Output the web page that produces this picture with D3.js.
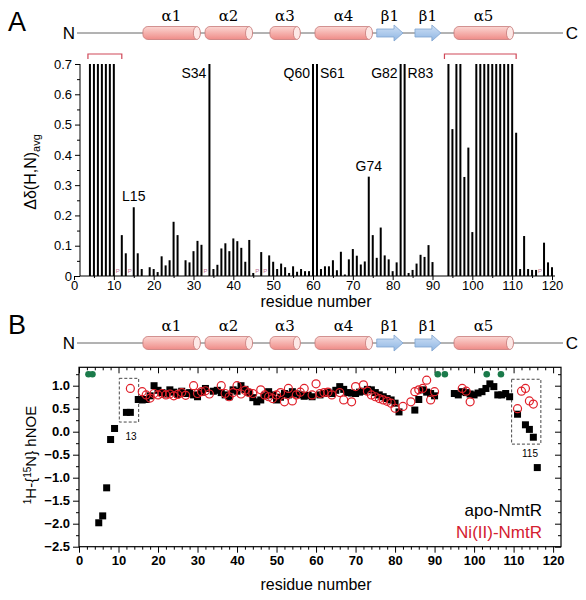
<!DOCTYPE html>
<html><head><meta charset="utf-8">
<script src="https://cdn.jsdelivr.net/npm/d3@7"></script>
<style>body{margin:0;background:#fff}svg{display:block;font-family:"Liberation Sans",Arial,sans-serif}</style>
</head><body><svg id="c" width="586" height="600"></svg>
<script>
// ---------- DATA ----------
// Panel A: chemical shift perturbation per residue (values > 0.7 are clipped at 0.7)
const csRes = [4,5,6,7,8,9,10,12,13,15,16,17,19,20,21,22,23,24,25,26,28,29,30,31,32,34,35,36,37,38,39,40,41,42,43,44,45,47,49,50,51,52,53,54,55,56,57,58,59,60,61,62,63,64,65,66,67,68,69,70,71,72,73,74,75,76,77,78,79,80,81,82,83,84,85,86,87,88,89,90,94,95,96,97,98,99,100,101,102,103,104,105,106,107,108,109,110,111,112,113,114,115,116,118,119,120];
const csVal = [0.7,0.7,0.7,0.7,0.7,0.7,0.7,0.135,0.075,0.227,0.075,0.023,0.029,0.023,0.013,0.065,0.035,0.052,0.179,0.135,0.052,0.045,0.082,0.116,0.103,0.7,0.023,0.037,0.091,0.108,0.082,0.124,0.115,0.093,0.047,0.119,0.01,0.079,0.068,0.047,0.023,0.041,0.029,0.01,0.032,0.014,0.023,0.016,0.016,0.7,0.7,0.023,0.032,0.032,0.052,0.019,0.08,0.005,0.055,0.089,0.067,0.038,0.048,0.328,0.135,0.06,0.16,0.068,0.055,0.016,0.045,0.7,0.7,0.01,0.02,0.041,0.07,0.063,0.102,0.046,0.7,0.485,0.7,0.7,0.327,0.424,0.145,0.7,0.7,0.7,0.7,0.7,0.7,0.7,0.7,0.7,0.7,0.473,0.023,0.132,0.023,0.02,0.02,0.11,0.045,0.029];
const prolines = [11,14,33,46,48,117];
const csLabels = [["L15",15,"mid"],["S34",34,"end"],["Q60",60,"end"],["S61",61,"start"],["G74",74,"mid"],["G82",82,"end"],["R83",83,"start"]];
const brackets = [[3.5,12],[93,111]];
const xTicksA = [0,10,20,30,40,50,60,70,80,90,100,110,120];
const yTicksA = [0,0.1,0.2,0.3,0.4,0.5,0.6,0.7];

// Secondary structure (residue ranges)
const helices = [["α1",17.3,31.6],["α2",32.9,44.7],["α3",49.2,56.7],["α4",60.5,74.8],["α5",95.4,110.2]];
const strands = [["β1",76,82.6],["β1",85.6,92.1]];

// Panel B: hNOE
const apoRes = [5,6,7,8,9,12,13,15,16,17,18,19,20,21,22,23,24,25,26,27,28,29,30,31,32,34,35,36,37,38,39,40,41,42,43,44,45,46,47,48,49,50,51,52,53,54,55,56,57,58,59,61,62,63,64,65,66,67,68,69,70,71,72,73,74,75,76,77,78,79,80,81,85,86,87,88,89,90,95,96,97,98,99,100,101,102,103,104,105,106,107,108,109,111,113,114,115,116];
const apoVal = [-1.98,-1.83,-1.22,-0.17,0.07,0.42,0.42,0.70,0.69,0.70,0.78,1.0,0.90,0.85,0.82,0.91,0.86,0.81,0.88,0.83,0.85,0.80,0.76,0.86,0.94,0.88,0.90,0.85,0.80,0.76,0.91,0.88,1.0,0.92,0.85,0.74,0.65,0.69,0.78,0.87,0.80,0.69,0.75,0.83,0.80,0.87,0.82,0.80,0.77,0.79,0.76,0.80,0.83,0.86,0.83,0.90,0.98,0.92,0.85,0.84,0.83,0.86,0.88,0.92,0.91,0.85,0.80,0.76,0.72,0.69,0.62,0.43,0.47,0.70,0.91,0.86,0.83,0.78,0.83,0.80,0.87,0.85,0.82,0.80,0.84,0.87,0.94,1.04,0.98,0.80,0.80,0.83,0.76,0.38,0.15,0.05,-0.12,-0.78];
const niRes = [13,16,17,18,19,20,21,22,23,24,25,26,27,29,30,31,32,33,36,37,38,39,40,41,42,43,44,46,47,48,49,50,51,52,53,54,55,56,57,59,60,61,62,63,64,66,67,69,70,72,73,74,75,76,77,78,79,80,82,84,85,86,87,88,89,90,97,98,99,111,112,113,114,115];
const niVal = [0.94,0.87,0.80,0.73,0.83,0.80,0.83,0.80,0.82,0.78,0.81,0.85,0.79,1.0,0.83,0.87,0.89,0.82,1.0,0.83,0.76,0.85,1.0,0.82,0.90,0.85,0.83,0.91,0.80,0.76,0.72,0.80,0.85,0.65,0.94,0.67,0.80,0.86,0.94,0.80,1.04,0.83,0.85,0.86,0.80,0.85,0.69,0.65,0.98,1.02,0.88,0.80,0.76,0.72,0.69,0.66,0.62,0.51,0.55,0.65,0.87,0.91,0.94,1.12,0.69,0.87,0.94,0.88,0.65,0.50,0.88,0.94,0.67,0.60];
const sigRes = [2.4,3.4,90.8,92.6,103.2,106.8];
const xTicksB = [0,10,20,30,40,50,60,70,80,90,100,110,120];
const yTicksB = [1.0,0.5,0.0,-0.5,-1.0,-1.5,-2.0,-2.5];

// ---------- DRAW ----------
const svg = d3.select("#c");
const defs = svg.append("defs");
const g1 = defs.append("linearGradient").attr("id","helix").attr("x1",0).attr("y1",0).attr("x2",0).attr("y2",1);
g1.append("stop").attr("offset","0%").attr("stop-color","#fbd6d2");
g1.append("stop").attr("offset","100%").attr("stop-color","#ef8c88");
const g2 = defs.append("linearGradient").attr("id","strand").attr("x1",0).attr("y1",0).attr("x2",0).attr("y2",1);
g2.append("stop").attr("offset","0%").attr("stop-color","#cfe0f5");
g2.append("stop").attr("offset","100%").attr("stop-color","#8fb6e3");

const xA = d3.scaleLinear().domain([0,120]).range([74,552]);
const yA = d3.scaleLinear().domain([0,0.7]).range([276,64]);
const xB = d3.scaleLinear().domain([0,122]).range([79,561]);
const yB = d3.scaleLinear().domain([-2.5,1.4]).range([546.7,367.3]);

function topology(yc, xs){
  const t = svg.append("g");
  t.append("line").attr("x1",77).attr("x2",563).attr("y1",yc).attr("y2",yc).attr("stroke","#666").attr("stroke-width",1);
  t.append("text").attr("x",69).attr("y",yc+6).attr("text-anchor","middle").attr("font-size",17).text("N");
  t.append("text").attr("x",572).attr("y",yc+6).attr("text-anchor","middle").attr("font-size",17).text("C");
  const h=13;
  helices.forEach(([lab,s,e])=>{
    const x0=xs(s), x1=xs(e);
    t.append("rect").attr("x",x0).attr("y",yc-h/2).attr("width",x1-x0).attr("height",h).attr("rx",5)
      .attr("fill","url(#helix)").attr("stroke","#c77a78").attr("stroke-width",0.8);
    t.append("ellipse").attr("cx",x1-3).attr("cy",yc).attr("rx",3.5).attr("ry",h/2)
      .attr("fill","#fde8e6").attr("stroke","#c77a78").attr("stroke-width",0.8);
    t.append("text").attr("x",(x0+x1)/2).attr("y",yc-12).attr("text-anchor","middle").attr("font-size",15)
      .attr("font-family","'DejaVu Serif',serif").text(lab);
  });
  strands.forEach(([lab,s,e])=>{
    const x0=xs(s), x1=xs(e), sh=4, hh=8, hx=x1-9;
    t.append("path").attr("d",`M${x0},${yc-sh}L${hx},${yc-sh}L${hx},${yc-hh}L${x1},${yc}L${hx},${yc+hh}L${hx},${yc+sh}L${x0},${yc+sh}Z`)
      .attr("fill","url(#strand)").attr("stroke","#7fa3cf").attr("stroke-width",0.8);
    t.append("text").attr("x",(x0+x1)/2).attr("y",yc-12).attr("text-anchor","middle").attr("font-size",15)
      .attr("font-family","'DejaVu Serif',serif").text(lab);
  });
}

// ---- Panel A ----
svg.append("text").attr("x",8).attr("y",31).attr("font-size",27).text("A");
topology(33, xA);

const gA = svg.append("g");
gA.selectAll("rect.bar").data(csRes.map((r,i)=>[r,csVal[i]])).enter().append("rect")
  .attr("x",d=>xA(d[0])-1).attr("width",2).attr("y",d=>yA(d[1])).attr("height",d=>yA(0)-yA(d[1])).attr("fill","#000");
gA.selectAll("text.p").data(prolines).enter().append("text").attr("x",d=>xA(d)).attr("y",yA(0)-3)
  .attr("text-anchor","middle").attr("font-size",6).attr("fill","#c07090").text("P");
brackets.forEach(([s,e])=>{
  gA.append("path").attr("d",`M${xA(s)},${59}V${54}H${xA(e)}V${59}`).attr("fill","none").attr("stroke","#d04858").attr("stroke-width",1.2);
});
csLabels.forEach(([t,r,a])=>{
  const v = csVal[csRes.indexOf(r)];
  let x = xA(r), y = v>=0.7 ? 78 : yA(v)-6;
  if(a==="end") x -= 3; if(a==="start") x += 3;
  gA.append("text").attr("x",x).attr("y",y).attr("font-size",14)
    .attr("text-anchor",a==="mid"?"middle":a).text(t);
});
// axes
gA.append("line").attr("x1",80).attr("x2",80).attr("y1",yA(0.7)).attr("y2",yA(0)).attr("stroke","#000");
gA.append("line").attr("x1",80).attr("x2",555).attr("y1",yA(0)).attr("y2",yA(0)).attr("stroke","#000");
const yAx = d3.axisLeft(yA).tickValues(yTicksA).tickFormat(d=>d===0?"0":d3.format(".1f")(d)).tickSize(5).tickSizeOuter(0);
const ya = gA.append("g").attr("transform","translate(80,0)").call(yAx);
ya.select(".domain").remove();
ya.selectAll("text").attr("font-size",13).attr("font-family","'Liberation Sans',Arial");
gA.append("g").attr("transform","translate(80,0)").call(d3.axisLeft(yA).tickValues(d3.range(0.05,0.7,0.1)).tickSize(3).tickFormat("")).select(".domain").remove();
const xa = gA.append("g").attr("transform",`translate(0,${yA(0)})`).call(d3.axisBottom(xA).tickValues(xTicksA).tickSize(4).tickPadding(1));
xa.select(".domain").remove();
xa.selectAll("text").attr("font-size",13).attr("font-family","'Liberation Sans',Arial");
gA.append("g").attr("transform",`translate(0,${yA(0)})`).call(d3.axisBottom(xA).tickValues(d3.range(5,120,10)).tickSize(2).tickFormat("")).select(".domain").remove();
svg.append("text").attr("x",316).attr("y",307).attr("text-anchor","middle").attr("font-size",16).text("residue number");
const ylA = svg.append("text").attr("transform","translate(36,172) rotate(-90)").attr("text-anchor","middle").attr("font-size",16);
ylA.append("tspan").text("Δδ(H,N)");
ylA.append("tspan").attr("font-size",11).attr("dy",4).text("avg");

// ---- Panel B ----
svg.append("text").attr("x",8).attr("y",334).attr("font-size",27).text("B");
topology(343, xA);

const gB = svg.append("g");
const [bx0,bx1] = xB.range(), by0 = yB(-2.5), by1 = yB(1.4);
gB.append("rect").attr("x",bx0).attr("y",by1).attr("width",bx1-bx0).attr("height",by0-by1).attr("fill","none").attr("stroke","#000").attr("stroke-width",1.2);
const xb = gB.append("g").attr("transform",`translate(0,${by0})`).call(d3.axisBottom(xB).tickValues(xTicksB).tickSize(6));
xb.select(".domain").remove();
xb.selectAll("text").attr("font-size",13).attr("font-weight","bold").attr("font-family","'Liberation Sans',Arial");
gB.append("g").attr("transform",`translate(0,${by0})`).call(d3.axisBottom(xB).tickValues(d3.range(2,122,2).filter(d=>d%10)).tickSize(3).tickFormat("")).select(".domain").remove();
gB.append("g").attr("transform",`translate(0,${by1})`).call(d3.axisBottom(xB).tickValues(xTicksB).tickSize(6).tickFormat("")).select(".domain").remove();
gB.append("g").attr("transform",`translate(0,${by1})`).call(d3.axisBottom(xB).tickValues(d3.range(2,122,2).filter(d=>d%10)).tickSize(3).tickFormat("")).select(".domain").remove();
const yb = gB.append("g").attr("transform",`translate(${bx0},0)`).call(d3.axisLeft(yB).tickValues(yTicksB).tickFormat(d3.format(".1f")).tickSize(6));
yb.select(".domain").remove();
yb.selectAll("text").attr("font-size",13).attr("font-weight","bold").attr("font-family","'Liberation Sans',Arial");
gB.append("g").attr("transform",`translate(${bx0},0)`).call(d3.axisLeft(yB).tickValues(d3.range(-2.25,1.3,0.5)).tickSize(3).tickFormat("")).select(".domain").remove();
gB.append("g").attr("transform",`translate(${bx1},0)`).call(d3.axisLeft(yB).tickValues(yTicksB).tickSize(6).tickFormat("")).select(".domain").remove();
gB.append("g").attr("transform",`translate(${bx1},0)`).call(d3.axisLeft(yB).tickValues(d3.range(-2.25,1.3,0.5)).tickSize(3).tickFormat("")).select(".domain").remove();

// dashed boxes
[[10.2,15.1,1.16,0.21,"13",131,440],[109.5,116.9,1.14,-0.27,"115",530,457]].forEach(([s,e,t,b,lab,lx,ly])=>{
  gB.append("rect").attr("x",xB(s)).attr("y",yB(t)).attr("width",xB(e)-xB(s)).attr("height",yB(b)-yB(t))
    .attr("fill","none").attr("stroke","#333").attr("stroke-dasharray","3,2").attr("stroke-width",0.9);
  gB.append("text").attr("x",lx).attr("y",ly).attr("text-anchor","middle").attr("font-size",10).text(lab);
});
gB.selectAll("rect.apo").data(apoRes.map((r,i)=>[r,apoVal[i]])).enter().append("rect")
  .attr("x",d=>xB(d[0])-3.5).attr("y",d=>yB(d[1])-3.5).attr("width",7).attr("height",7).attr("fill","#000");
gB.selectAll("circle.ni").data(niRes.map((r,i)=>[r,niVal[i]])).enter().append("circle")
  .attr("cx",d=>xB(d[0])).attr("cy",d=>yB(d[1])).attr("r",4).attr("fill","none").attr("stroke","#e0202a").attr("stroke-width",1.2);
gB.selectAll("circle.sig").data(sigRes).enter().append("circle")
  .attr("cx",d=>xB(d)).attr("cy",yB(1.25)).attr("r",3.3).attr("fill","#1a7a4a");
gB.append("text").attr("x",542).attr("y",516).attr("text-anchor","end").attr("font-size",17).text("apo-NmtR");
gB.append("text").attr("x",542).attr("y",538).attr("text-anchor","end").attr("font-size",17).attr("fill","#d42030").text("Ni(II)-NmtR");
svg.append("text").attr("x",316).attr("y",590).attr("text-anchor","middle").attr("font-size",16).text("residue number");
const ylB = svg.append("text").attr("transform","translate(36,455) rotate(-90)").attr("text-anchor","middle").attr("font-size",15);
ylB.append("tspan").attr("font-size",10).attr("dy",-5).text("1");
ylB.append("tspan").attr("dy",5).text("H-{");
ylB.append("tspan").attr("font-size",10).attr("dy",-5).text("15");
ylB.append("tspan").attr("dy",5).text("N} hNOE");
</script></body></html>
